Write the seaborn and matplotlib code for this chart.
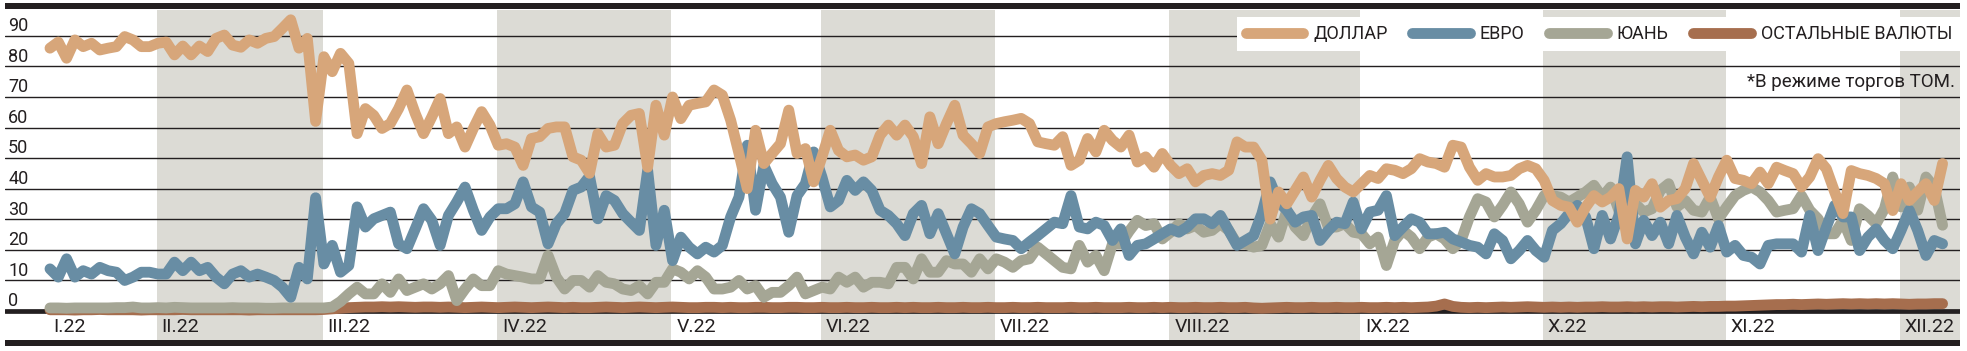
import numpy as np
import matplotlib
matplotlib.use('Agg')
import matplotlib.pyplot as plt
import seaborn as sns

# ------------------ data: share of currencies, % (one value per trading day) ------------------
dollar = [86, 88, 82.7, 88.7, 86.5, 87.6, 85.4, 86, 86.5, 89.8,
          88.7, 86.5, 86.5, 87.6, 88, 83.8, 86.7, 83.8, 86.7, 84.9,
          89.2, 90.3, 87, 86.3, 88.7, 87.6, 89.2, 89.8, 92.5, 95.3,
          86, 89.2,
          62, 83.2, 78.3, 84.3, 81, 58, 66.2, 64, 59.7, 61.3,
          66.2, 72.3, 64.6, 58, 63.5, 69.5, 58, 60.2, 53.6, 59.7,
          65.2, 60.8, 54.2, 54.7, 53.6, 47.6, 56.4, 57, 59.7, 60.2,
          60.2, 50.4, 49.3, 45,
          58, 53.6, 54.2, 61.3, 64, 64.6, 47, 67.3, 57.5, 70,
          62.9, 67.3, 67.9, 68.4, 72.3, 70.6, 62.4, 51.5, 40, 59.1,
          48.2, 51.5, 54.7, 65.7, 51.5, 53.1, 42.2, 50.4, 59.1, 52.5,
          50.4, 51,
          49.3, 50.4, 57.5, 60.8, 57.5, 60.8, 57, 48.2, 63.5, 54.7,
          61.3, 67.3, 57.5, 54.7, 51.5, 60.2, 61.3, 61.9, 62.4, 63,
          61.3, 55.3, 54.7, 54.2, 57, 47.6, 49.3, 56.4, 52, 59.1,
          55.8, 53.6, 57.5,
          48.7, 50.4, 47, 51.5, 47.6, 44.9, 46.5, 42.2, 44.3, 44.9,
          44.3, 46, 55.3, 53.6, 53.6, 49.3, 30, 38.9, 35, 39.4,
          43.8, 37.2, 42.7, 47.6, 43.3, 40.5, 38.9, 41.6, 44.3, 43.3,
          46.5, 46,
          44.9, 46.5, 49.8, 48.7, 48.2, 47, 54.2, 53.6, 47, 42.7,
          44.9, 43.8, 43.8, 44.3, 46.5, 47.6, 46.5, 42.7, 36.1, 34.5,
          33.9, 29, 33.9, 37.7, 35.6, 37.2, 40, 23.5, 39.4, 37.2,
          41.6, 33.9,
          36.1, 36.7, 40, 48.2, 42.7, 37.2, 43.8, 49.3, 43.3, 42.7,
          41.6, 45.4, 41.6, 47, 45.9, 44.9, 40.5, 43.8, 49.8, 46.5,
          38.9, 31.8, 45.9, 44.9, 44.3, 43.3, 41.6, 32.8, 41.6, 36.1,
          38.9, 41.6, 36.1, 48.2]

euro = [13.7, 11, 17, 11, 13.1, 12, 14.2, 13.1, 12.6, 9.9,
        11, 12.6, 12.6, 12, 12, 15.9, 13.1, 15.9, 13.1, 14.2,
        11, 8.8, 12, 13.1, 11, 12, 11, 9.9, 7.7, 4.4,
        14.2, 10.4,
        37,
        15.3, 21.4, 12.6, 14.8, 34, 27.4, 30.1, 31.2, 32.3, 21.9,
        20.3, 26.8, 33.4, 29.6, 21.4, 31.2, 35.6, 40.5, 32.9, 26.3,
        30.7, 33.4, 33.4, 35, 42.2, 34, 32.3, 21.9, 28.5, 31.8,
        39.4, 40.5, 44,
        30.1, 37.7, 36.1, 31.8, 29, 26.3, 46, 21.4, 32.9, 16.4,
        24.1, 20.8, 18.6, 20.8, 19.2, 21.4, 30.7, 37.2, 54.2, 32.9,
        47.6, 41.6, 37.2, 25.7, 37.7, 41.6, 52, 43.8, 34, 36.1,
        42.7, 39.4,
        42.2, 39.4, 32.9, 31.2, 28.5, 24.6, 31.8, 34.5, 25.2, 31.8,
        25.2, 18.6, 27.4, 33.4, 31.8, 27.9, 24.1, 23.5, 23, 20.3,
        22.5, 24.6, 26.8, 29, 28.5, 37.7, 27.4, 26.8, 29, 27.9,
        23, 26.8, 18.1,
        21.4, 21.9, 23.5, 25.2, 26.8, 25.7, 27.4, 30.1, 30.1, 28.5,
        31.2, 26.3, 21.4, 23, 24.6, 31.8, 42.2, 35.6, 32.9, 29,
        30.7, 31.2, 23, 26.3, 29, 28.5, 35.6, 26.8, 32.3, 32.9,
        37.7, 24.6,
        27.4, 30.1, 29, 25.2, 25.2, 25.7, 23.5, 22.5, 21.4, 20.8,
        18.6, 25.2, 23, 17, 19.7, 23, 19.7, 17.5, 26.3, 28.5,
        31.8, 34.5, 30.7, 20.3, 31.2, 23.5, 31.2, 50.4, 21.9, 29.6,
        24.6, 29,
        21.9, 31.2, 24.1, 18.6, 25.7, 20.8, 27.9, 19.2, 21.4, 18.1,
        17.5, 15.3, 21.4, 21.9, 21.9, 21.9, 19.2, 31.2, 19.7, 27.4,
        34.5, 30.7, 30.7, 19.7, 24.1, 26.8, 23, 20.3, 26.3, 32.9,
        26.3, 18.1, 23, 21.9]

yuan = [0.9, 0.9, 0.8, 0.9, 0.9, 0.9, 0.9, 0.9, 1.0, 1.0,
        1.2, 0.9, 0.9, 1.0, 0.9, 1.1, 1.0, 0.9, 0.9, 0.9,
        0.9, 0.9, 1.0, 0.9, 0.9, 0.9, 0.8, 0.8, 0.9, 0.9,
        0.9, 0.9, 0.9, 0.9, 1.2, 3.0, 5.5, 7.7,
        5.5, 5.5, 8.8, 6, 10.4, 6.6, 7.7, 8.8, 7.1, 8.8,
        11.5, 3.3, 7.1, 10.4, 8.2, 8.2, 13.1, 12, 11.5, 11,
        10.4, 10.4, 18.1, 11, 7.1, 9.9, 9.9,
        7.7,
        11.5, 9.3, 8.8, 7.1, 6.6, 8.2, 5.5, 9.3, 9.3, 13.7,
        12.6, 10.4, 13.1, 11, 7.1, 7.1, 7.7, 9.9, 7.1, 8.2,
        4.4, 6, 6, 8.2, 11, 5.5, 6.6, 7.7, 7.1, 11,
        9.3, 11,
        7.7, 9.3, 9.3, 8.8, 14.2, 14.2, 10.4, 17, 12.6, 12.6,
        16.4, 15.3, 15.3, 12.6, 17, 13.7, 17, 15.9, 14.2, 16.4,
        17, 20.8, 18.6, 16.4, 14.2, 13.7, 21.4, 15.9, 18.1, 13.1,
        21.9, 21.9, 26,
        29.6, 27.9, 28.5, 23.5, 25.7, 28.5, 26.8, 27.9, 25.7, 26.3,
        28.5, 26.3, 21.9, 21.9, 20.8, 21.4, 28.5, 24.1, 32.9, 27.4,
        24.6, 30.7, 35, 27.4, 27.4, 28.5, 25.7, 25.2, 21.9, 24.1,
        14.8, 23,
        26.3, 24.1, 20.3, 24.1, 25.2, 23.5, 20.3, 23, 30.7, 36.7,
        35.6, 30.7, 34.5, 38.9, 35, 29, 32.9, 37.7, 37.7, 37.2,
        35.6, 37.2, 38.9, 41.1, 37.2, 40.5, 32.9, 32.3, 35, 32.3,
        33.4, 39.4,
        41.6, 34, 36.1, 32.9, 32.3, 37.2, 30.1, 34, 37.7, 39.4,
        40.5, 38.9, 36.1, 32.3, 32.9, 33.4, 37.7, 32.9, 30.1, 25.2,
        25.2, 29.6, 23, 33.4, 31.2, 28.5, 33.4, 43.8, 34, 40.5,
        32.9, 43.8, 40.5, 28]

other = [0.3, 0.3, 0.3, 0.2, 0.3, 0.3, 0.4, 0.3, 0.3, 0.3,
         0.3, 0.2, 0.3, 0.3, 0.3, 0.3, 0.4, 0.3, 0.3, 0.3,
         0.3, 0.3, 0.3, 0.3, 0.2, 0.3, 0.3, 0.3, 0.3, 0.3,
         0.3, 0.3, 0.3, 0.4, 0.6, 0.8, 1.0, 1.1, 1.2, 1.2,
         1.3, 1.2, 1.3, 1.2, 1.1, 1.2, 1.2, 1.1, 1.2, 1.1,
         1.0, 1.1, 1.2, 1.1, 1.0, 1.1, 1.2, 1.1, 1.0, 1.1,
         1.2, 1.1, 1.0, 1.1, 1.0, 1.0, 1.1, 1.2, 1.1, 1.0,
         1.1, 1.2, 1.1, 1.0, 1.1, 1.2, 1.1, 1.0, 1.0, 1.1,
         1.1, 1.0, 1.1, 1.0, 1.0, 1.1, 1.1, 1.0, 1.0, 1.1,
         1.1, 1.0, 1.0, 1.1, 1.0, 1.0, 1.1, 1.0, 1.0, 1.1,
         1.0, 1.0, 1.1, 1.0, 1.1, 1.0, 1.0, 1.1, 1.0, 1.0,
         1.1, 1.0, 1.0, 1.1, 1.0, 1.0, 1.1, 1.0, 1.0, 1.1,
         1.0, 1.0, 1.0, 1.1, 1.0, 1.0, 1.1, 1.0, 1.0, 1.0,
         1.1, 1.0, 1.0, 1.1, 1.0, 1.1, 1.0, 1.0, 1.1, 1.0,
         1.0, 1.1, 1.0, 1.0, 1.1, 0.9, 0.8, 0.9, 1.0, 1.1,
         1.0, 1.0, 1.1, 1.0, 1.0, 1.1, 1.0, 1.0, 1.1, 1.0,
         1.0, 1.1, 1.0, 1.1, 1.0, 1.1, 1.2, 1.5, 2.2, 1.4,
         1.1, 1.0, 1.1, 1.0, 1.1, 1.2, 1.1, 1.2, 1.3, 1.2,
         1.1, 1.2, 1.1, 1.2, 1.1, 1.2, 1.2, 1.3, 1.2, 1.2,
         1.3, 1.2, 1.3, 1.2, 1.3, 1.3, 1.2, 1.3, 1.4, 1.3,
         1.4, 1.4, 1.5, 1.5, 1.6, 1.7, 1.8, 1.9, 2.0, 2.0,
         2.1, 2.0, 2.1, 2.2, 2.1, 2.2, 2.3, 2.2, 2.3, 2.2,
         2.3, 2.2, 2.3, 2.2, 2.1, 2.2, 2.2, 2.3, 2.3]

# first trading day (index) of every month and its label
month_starts = [0, 13, 33, 54, 75, 93, 114, 135, 158, 180, 202, 223]
month_labels = ['I.22', 'II.22', 'III.22', 'IV.22', 'V.22', 'VI.22',
                'VII.22', 'VIII.22', 'IX.22', 'X.22', 'XI.22', 'XII.22']
yticks = [0, 10, 20, 30, 40, 50, 60, 70, 80, 90]

names = ['ДОЛЛАР', 'ЕВРО', 'ЮАНЬ', 'ОСТАЛЬНЫЕ ВАЛЮТЫ']
series = {'ДОЛЛАР': dollar, 'ЕВРО': euro, 'ЮАНЬ': yuan, 'ОСТАЛЬНЫЕ ВАЛЮТЫ': other}
colors = {'ДОЛЛАР': '#d7a67a', 'ЕВРО': '#688da4', 'ЮАНЬ': '#a5a695',
          'ОСТАЛЬНЫЕ ВАЛЮТЫ': '#a66e4e'}
note = '*В режиме торгов ТОМ.'

# ------------------ plotting ------------------
sns.set_theme(style='white')
plt.rcParams['font.family'] = ['Roboto', 'DejaVu Sans']
ink = '#231f20'
band = '#dcdbd5'

fig = plt.figure(figsize=(19.67, 3.51), dpi=100)
ax = fig.add_axes([5 / 1967, 11 / 351, 1955 / 1967, 330 / 351])
x_right = 230.1
ax.set_xlim(-5.42, x_right)
ax.set_ylim(-9.6, 98.5)
ax.axis('off')

# black rules above and below the chart
fig.add_artist(plt.Rectangle((5 / 1967, 342 / 351), 1955 / 1967, 6 / 351,
                             transform=fig.transFigure, color=ink, lw=0))
fig.add_artist(plt.Rectangle((5 / 1967, 5 / 351), 1955 / 1967, 6 / 351,
                             transform=fig.transFigure, color=ink, lw=0))

# shaded even months
for k in range(1, len(month_starts), 2):
    start = month_starts[k] - 0.15
    end = month_starts[k + 1] - 0.15 if k + 1 < len(month_starts) else x_right
    ax.axvspan(start, end, color=band, lw=0, zorder=0)

# gridlines and y labels
for v in yticks:
    if v == 0:
        ax.axhline(v, color=ink, lw=3.4, zorder=1)
    else:
        ax.axhline(v, color=ink, lw=1.0, zorder=1)
    ax.text(0.0016, v + 1.5, str(v), transform=ax.get_yaxis_transform(),
            fontsize=13, color=ink, ha='left', va='baseline', zorder=2)

# month labels
for s, lab in zip(month_starts, month_labels):
    ax.text(s + 0.45, -5.2, lab, fontsize=14, color=ink, ha='left', va='center')

# the four lines, drawn bottom to top
days = np.arange(len(dollar))
lines = {}
for name in ['ОСТАЛЬНЫЕ ВАЛЮТЫ', 'ЮАНЬ', 'ЕВРО', 'ДОЛЛАР']:
    sns.lineplot(x=days, y=series[name], color=colors[name], lw=7.8, ax=ax,
                 estimator=None, legend=False, zorder=3,
                 solid_capstyle='round', solid_joinstyle='round')
    lines[name] = ax.lines[-1]

leg = ax.legend(handles=[lines[n] for n in names], labels=names, ncol=4,
                loc='upper right', bbox_to_anchor=(1, 1 - 7 / 330), borderaxespad=0,
                frameon=True, facecolor='white', edgecolor='none', framealpha=1,
                fancybox=False, fontsize=13, handlelength=3.2, handletextpad=0.55,
                columnspacing=1.35, borderpad=0.45)
leg.set_zorder(5)
for t in leg.get_texts():
    t.set_color(ink)

ax.text(0.9974, 75, note, transform=ax.get_yaxis_transform(), fontsize=13.5,
        color=ink, ha='right', va='center', zorder=4)

fig.savefig('out.png', dpi=100, facecolor='white')
